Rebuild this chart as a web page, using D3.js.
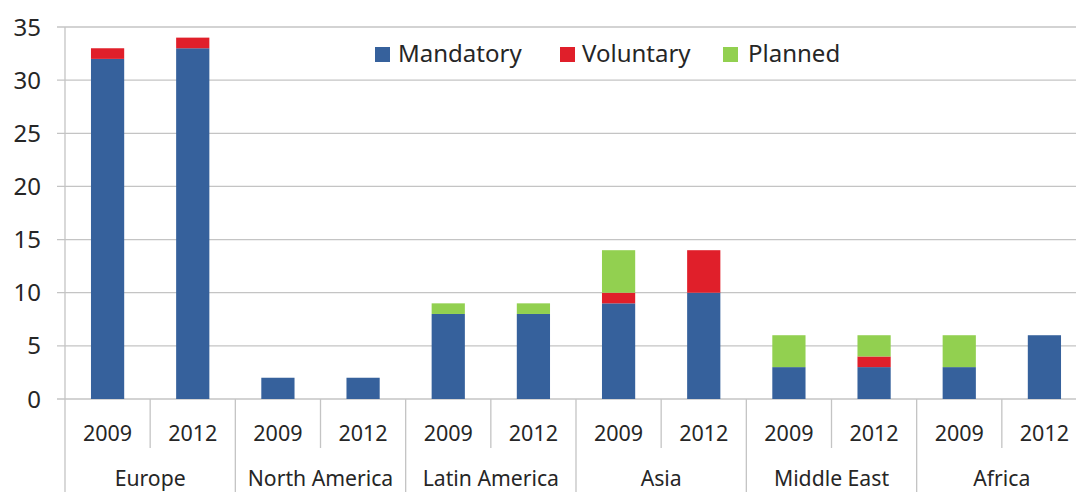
<!DOCTYPE html>
<html><head><meta charset="utf-8">
<script src="https://cdn.jsdelivr.net/npm/d3@7"></script>
<style>body{margin:0;background:#fff;} svg{display:block;} text{font-family:"Noto Sans",sans-serif;fill:#262626;}</style>
</head><body><svg id="c" width="1076" height="492"></svg>
<script>
const regions = ["Europe","North America","Latin America","Asia","Middle East","Africa"];
const years = ["2009","2012"];
const mandatory = [32,33, 2,2, 8,8, 9,10, 3,3, 3,6];
const voluntary = [1,1, 0,0, 0,0, 1,4, 0,1, 0,0];
const planned   = [0,0, 0,0, 1,1, 4,0, 3,2, 3,0];
const seriesNames = ["Mandatory","Voluntary","Planned"];
const seriesColors = ["#36619c","#e01f2a","#92d050"];
const yTicks = [0,5,10,15,20,25,30,35];

(function(){
const svg = d3.select("#c");
const pL = 65, pR = 1087, pT = 27, pB = 399;
const cats = [];
regions.forEach(r => years.forEach(y => cats.push(r + "|" + y)));
const rows = cats.map((c,i) => ({cat:c, Mandatory:mandatory[i], Voluntary:voluntary[i], Planned:planned[i]}));

const x = d3.scaleBand().domain(cats).range([pL,pR]).paddingInner(0.61).paddingOuter(0.305);
const xb = d3.scaleBand().domain(cats).range([pL,pR]);
const y = d3.scaleLinear().domain([0,35]).range([pB,pT]);

svg.append("g").selectAll("line").data(yTicks).join("line")
  .attr("x1",57).attr("x2",1076).attr("y1",d=>y(d)).attr("y2",d=>y(d))
  .attr("stroke","#c4c4c4").attr("stroke-width",1.3);
svg.append("line").attr("x1",pL).attr("x2",pL).attr("y1",pT).attr("y2",492).attr("stroke","#c4c4c4").attr("stroke-width",1.3);
svg.append("g").selectAll("text").data(yTicks).join("text")
  .attr("x",41).attr("y",d=>y(d)).attr("dy","0.36em").attr("text-anchor","end")
  .attr("font-size",24).text(d=>d);

const stack = d3.stack().keys(seriesNames)(rows);
svg.append("g").selectAll("g").data(stack).join("g")
  .attr("fill",(d,i)=>seriesColors[i])
  .selectAll("rect").data(d=>d.filter(p=>p[1]-p[0]>0)).join("rect")
  .attr("x",d=>x(d.data.cat)).attr("width",x.bandwidth())
  .attr("y",d=>y(d[1])).attr("height",d=>y(d[0])-y(d[1]));

const g = svg.append("g");
cats.forEach((c,i)=>{
  if(i===0) return;
  const xx = xb(c);
  const isGroup = i%2===0;
  g.append("line").attr("x1",xx).attr("x2",xx).attr("y1",pB).attr("y2",isGroup?492:448)
    .attr("stroke","#c4c4c4").attr("stroke-width",1.3);
});
g.selectAll("text.yr").data(cats).join("text").attr("class","yr")
  .attr("x",d=>xb(d)+xb.bandwidth()/2).attr("y",441).attr("text-anchor","middle")
  .attr("font-size",21.5).text(d=>d.split("|")[1]);
g.selectAll("text.rg").data(regions).join("text").attr("class","rg")
  .attr("x",(d,i)=>xb(cats[i*2])+xb.bandwidth()).attr("y",486).attr("text-anchor","middle")
  .attr("font-size",21.2).text(d=>d);

const legX = [375,560,723];
const legT = [398,582,748];
const lg = svg.append("g");
seriesNames.forEach((s,i)=>{
  lg.append("rect").attr("x",legX[i]).attr("y",47).attr("width",15).attr("height",15).attr("fill",seriesColors[i]);
  lg.append("text").attr("x",legT[i]).attr("y",62).attr("font-size",24).text(s);
});
})();
</script></body></html>
